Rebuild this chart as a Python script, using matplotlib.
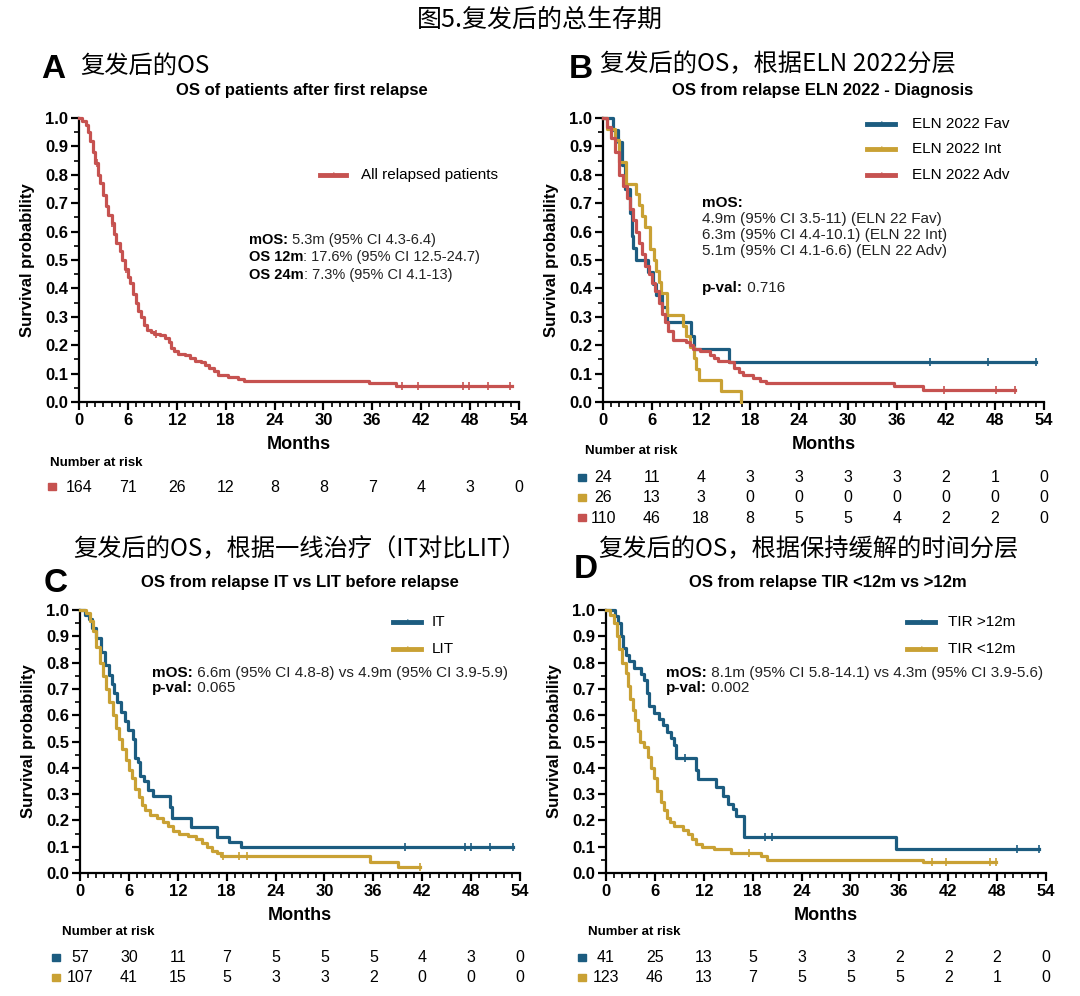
import numpy as np
import matplotlib
matplotlib.use('Agg')
import matplotlib.pyplot as plt
from matplotlib import font_manager
from matplotlib.ticker import MultipleLocator
from matplotlib.transforms import blended_transform_factory

plt.rcParams['font.family'] = ['Liberation Sans', 'DejaVu Sans']
_names = {f.name for f in font_manager.fontManager.ttflist}
NARROW = 'Liberation Sans Narrow' if 'Liberation Sans Narrow' in _names else 'Liberation Sans'
CJK = ['Noto Sans CJK SC', 'DejaVu Sans']

RED = '#C65250'
BLUE = '#1C5C80'
GOLD = '#C9A134'

risk_times = [0, 6, 12, 18, 24, 30, 36, 42, 48, 54]

# ---- panel A: all relapsed patients
a_t = [0, 0.4, 0.8, 1.1, 1.4, 1.7, 2.0, 2.3, 2.6, 3.0, 3.3, 3.6, 4.0, 4.3, 4.6, 5.0, 5.3, 5.6,
       6.0, 6.3, 6.6, 7.0, 7.3, 7.6, 8.0, 8.4, 8.8, 9.2, 10.0, 10.6, 11.0, 11.3, 11.7, 12.2,
       13.0, 13.6, 14.2, 15.0, 15.5, 16.0, 16.6, 17.1, 18.3, 19.5, 20.3, 35.6, 38.9]
a_s = [1.0, 0.99, 0.975, 0.95, 0.92, 0.88, 0.84, 0.80, 0.77, 0.73, 0.69, 0.66, 0.63, 0.59, 0.56,
       0.53, 0.50, 0.47, 0.44, 0.42, 0.38, 0.35, 0.32, 0.30, 0.27, 0.255, 0.245, 0.24, 0.235,
       0.225, 0.21, 0.19, 0.18, 0.17, 0.165, 0.155, 0.145, 0.14, 0.13, 0.12, 0.11, 0.095, 0.088,
       0.08, 0.073, 0.067, 0.055]
a_end = 53.2
a_cens = [2.2, 4.0, 5.8, 9.5, 39.7, 41.6, 47.1, 47.9, 50.2, 52.9]
a_risk = [164, 71, 26, 12, 8, 8, 7, 4, 3, 0]

# ---- panel B: ELN 2022
fav_t = [0, 1.2, 1.8, 2.3, 2.7, 3.3, 3.5, 3.7, 4.1, 5.5, 6.1, 6.5, 7.2, 7.8, 10.8, 11.2, 15.4]
fav_s = [1, .958, .917, .833, .75, .667, .583, .542, .5, .458, .417, .375, .333, .281, .234, .188, .141]
fav_end = 53.0
fav_cens = [40.0, 47.2, 53.0]
fav_risk = [24, 11, 4, 3, 3, 3, 3, 2, 1, 0]

int_t = [0, 0.5, 1.5, 2.0, 2.8, 4.0, 4.4, 4.8, 5.2, 5.8, 6.2, 6.5, 6.8, 7.1, 7.8, 9.8, 10.2,
         10.7, 11.1, 11.4, 11.8, 14.4, 16.9]
int_s = [1, .962, .923, .846, .769, .731, .692, .654, .615, .538, .5, .462, .423, .385, .308,
         .269, .231, .192, .154, .115, .077, .038, 0]
int_end = 16.9
int_cens = []
int_risk = [26, 13, 3, 0, 0, 0, 0, 0, 0, 0]

adv_t = [0, 0.5, 1.0, 1.5, 1.9, 2.4, 2.9, 3.3, 3.7, 4.0, 4.4, 4.8, 5.2, 5.6, 6.0, 6.4, 6.8, 7.2,
         7.6, 8.0, 8.6, 10.2, 10.6, 11.0, 11.9, 13.1, 13.6, 14.1, 15.4, 16.0, 16.6, 17.2, 18.4,
         19.2, 19.9, 35.6, 39.2]
adv_s = [1, .97, .93, .88, .80, .76, .72, .68, .64, .60, .56, .52, .48, .45, .42, .39, .35, .31,
         .28, .25, .22, .21, .20, .185, .18, .165, .155, .145, .14, .12, .105, .095, .085, .075,
         .068, .055, .043]
adv_end = 50.5
adv_cens = [41.7, 48.1, 50.5]
adv_risk = [110, 46, 18, 8, 5, 5, 4, 2, 2, 0]

# ---- panel C: IT vs LIT
it_t = [0, 0.6, 1.1, 1.5, 2.0, 2.6, 3.1, 3.5, 3.9, 4.2, 4.6, 5.0, 5.5, 5.9, 6.5, 6.8, 7.1, 7.4,
        7.8, 8.4, 9.0, 11.1, 11.3, 13.6, 16.8, 18.3, 19.8]
it_s = [1, .982, .965, .93, .895, .842, .789, .754, .719, .684, .649, .614, .579, .544, .509,
        .439, .421, .368, .351, .316, .293, .251, .209, .176, .138, .117, .098]
it_end = 53.2
it_cens = [39.9, 47.2, 48.0, 50.3, 53.1]
it_risk = [57, 30, 11, 7, 5, 5, 5, 4, 3, 0]

lit_t = [0, 0.7, 1.2, 1.6, 2.0, 2.4, 2.8, 3.2, 3.6, 4.0, 4.4, 4.8, 5.2, 5.6, 6.0, 6.4, 6.8, 7.2,
         7.6, 8.0, 8.6, 9.4, 10.2, 10.8, 11.4, 12.2, 13.2, 14.2, 15.0, 15.6, 16.2, 16.8, 17.3,
         35.6, 39.0]
lit_s = [1, .99, .96, .92, .86, .80, .75, .70, .65, .60, .55, .51, .47, .43, .39, .36, .32, .29,
         .26, .24, .22, .21, .195, .18, .16, .15, .14, .13, .115, .10, .085, .075, .065, .042, .021]
lit_end = 41.7
lit_cens = [17.6, 19.5, 20.5, 41.7]
lit_risk = [107, 41, 15, 5, 3, 3, 2, 0, 0, 0]

# ---- panel D: time in remission
gt_t = [0, 1.05, 1.5, 1.8, 2.1, 2.5, 2.8, 3.4, 4.3, 4.7, 5.0, 5.3, 5.9, 6.5, 7.0, 7.5, 8.0, 8.3,
        8.6, 11.0, 11.3, 13.5, 14.3, 15.0, 15.6, 16.0, 16.9, 35.6]
gt_s = [1, .976, .951, .902, .854, .829, .805, .780, .756, .732, .683, .634, .610, .585, .561,
        .537, .512, .488, .439, .39, .358, .326, .293, .261, .245, .218, .138, .092]
gt_end = 53.2
gt_cens = [9.7, 19.5, 20.4, 50.4, 53.2]
gt_risk = [41, 25, 13, 5, 3, 3, 2, 2, 2, 0]

lt_t = [0, 0.5, 1.0, 1.3, 1.6, 2.0, 2.4, 2.7, 3.0, 3.3, 3.6, 3.9, 4.2, 4.7, 5.1, 5.5, 5.9, 6.3,
        6.7, 7.1, 7.5, 7.9, 8.4, 9.4, 10.1, 10.6, 11.1, 11.8, 13.3, 15.3, 19.0, 19.8, 38.9]
lt_s = [1, .98, .95, .90, .85, .80, .76, .71, .66, .62, .58, .54, .50, .48, .44, .40, .36, .31,
        .27, .24, .21, .195, .18, .165, .15, .13, .11, .10, .09, .075, .065, .05, .043]
lt_end = 47.9
lt_cens = [17.5, 40.0, 41.7, 47.1, 47.9]
lt_risk = [123, 46, 13, 7, 5, 5, 5, 2, 1, 0]

W, H = 1080, 996
fig = plt.figure(figsize=(W / 100, H / 100), dpi=100)


def fx(x):
    return x / W


def fy(y):
    return 1 - y / H


def make_ax(l, t, r, b):
    ax = fig.add_axes([fx(l), fy(b), (r - l) / W, (b - t) / H])
    ax.set_xlim(0, 54)
    ax.set_ylim(0, 1)
    ax.set_xticks(risk_times)
    ax.xaxis.set_minor_locator(MultipleLocator(1))
    ax.set_yticks(np.round(np.arange(0, 1.01, 0.1), 1))
    ax.set_yticklabels([f'{v:.1f}' for v in np.arange(0, 1.01, 0.1)])
    ax.yaxis.set_minor_locator(MultipleLocator(0.05))
    for sp in ['top', 'right']:
        ax.spines[sp].set_visible(False)
    for sp in ['left', 'bottom']:
        ax.spines[sp].set_linewidth(1.6)
    ax.tick_params(which='major', length=6, width=1.6, pad=2)
    ax.tick_params(which='minor', length=3.5, width=1.2)
    for lab in ax.get_xticklabels() + ax.get_yticklabels():
        lab.set_fontfamily(NARROW)
        lab.set_fontweight('bold')
        lab.set_fontsize(12)
    ax.set_ylabel('Survival probability', fontweight='bold', fontsize=12, labelpad=7)
    ax.set_xlabel('Months', fontweight='bold', fontsize=13, family=NARROW, labelpad=6)
    return ax


def km(ax, t, s, end, cens, color):
    tt = np.append(t, end)
    ss = np.append(s, s[-1])
    ax.step(tt, ss, where='post', color=color, lw=2.3, clip_on=False, zorder=3)
    if len(cens):
        idx = np.searchsorted(tt, cens, side='right') - 1
        ax.plot(cens, ss[idx], ls='none', marker='|', ms=6, mew=1.2, color=color,
                clip_on=False, zorder=3)


def legend(x1, x2, xt, ys, labels, colors):
    for y, lab, c in zip(ys, labels, colors):
        fig.add_artist(plt.Line2D([fx(x1), fx(x2)], [fy(y), fy(y)], transform=fig.transFigure,
                                  color=c, lw=3.5))
        fig.text(fx((x1 + x2) / 2), fy(y), '+', color=c, ha='center', va='center', fontsize=7)
        fig.text(fx(xt), fy(y), lab, ha='left', va='center', fontsize=11)


def mixed(ax, x, y, bold, rest, size=10.5):
    t1 = fig.text(fx(x), fy(y), bold, ha='left', va='center', fontsize=size, fontweight='bold')
    ax.annotate(rest, xy=(1, 0), xycoords=t1, ha='left', va='bottom', fontsize=size,
                color='#222222', annotation_clip=False)


def risk_table(ax, head_xy, sq_x, rows, data, colors):
    fig.text(fx(head_xy[0]), fy(head_xy[1]), 'Number at risk', ha='left', va='center',
             fontsize=9.5, fontweight='bold', family=NARROW)
    tr = blended_transform_factory(ax.transData, fig.transFigure)
    for y, vals, c in zip(rows, data, colors):
        fig.add_artist(plt.Rectangle((fx(sq_x - 4), fy(y + 3.5)), 8 / W, 7 / H,
                                     transform=fig.transFigure, color=c))
        for t, v in zip(risk_times, vals):
            ax.text(t, fy(y), str(v), transform=tr, ha='center', va='center', fontsize=11.5,
                    family=NARROW, clip_on=False)


def heading(lx, ly, letter, cx, cy, cn, sx, sy, sub):
    fig.text(fx(lx), fy(ly), letter, ha='left', va='center', fontsize=24, fontweight='bold')
    fig.text(fx(cx), fy(cy), cn, ha='left', va='center', fontsize=17.5, family=CJK)
    fig.text(fx(sx), fy(sy), sub, ha='center', va='center', fontsize=12, fontweight='bold')


fig.text(0.5, fy(20), '图5.复发后的总生存期', ha='center', va='center', fontsize=18, family=CJK)

# ---- A
heading(41, 70, 'A', 80, 66, '复发后的OS', 302, 90, 'OS of patients after first relapse')
axA = make_ax(79, 118, 519, 402)
km(axA, a_t, a_s, a_end, a_cens, RED)
legend(320, 346, 361, [175], ['All relapsed patients'], [RED])
mixed(axA, 249, 240, 'mOS:', ' 5.3m (95% CI 4.3-6.4)')
mixed(axA, 249, 257, 'OS 12m', ': 17.6% (95% CI 12.5-24.7)')
mixed(axA, 249, 275, 'OS 24m', ': 7.3% (95% CI 4.1-13)')
risk_table(axA, (50, 463), 52, [487], [a_risk], [RED])

# ---- B
heading(569, 70, 'B', 600, 64, '复发后的OS，根据ELN 2022分层', 823, 90,
        'OS from relapse ELN 2022 - Diagnosis')
axB = make_ax(603, 118, 1044, 402)
km(axB, fav_t, fav_s, fav_end, fav_cens, BLUE)
km(axB, int_t, int_s, int_end, int_cens, GOLD)
km(axB, adv_t, adv_s, adv_end, adv_cens, RED)
legend(867, 895, 912, [124, 149, 175], ['ELN 2022 Fav', 'ELN 2022 Int', 'ELN 2022 Adv'],
       [BLUE, GOLD, RED])
fig.text(fx(702), fy(203), 'mOS:', ha='left', va='center', fontsize=11, fontweight='bold')
for y, line in zip([219, 235, 251], ['4.9m (95% CI 3.5-11) (ELN 22 Fav)',
                                     '6.3m (95% CI 4.4-10.1) (ELN 22 Int)',
                                     '5.1m (95% CI 4.1-6.6) (ELN 22 Adv)']):
    fig.text(fx(702), fy(y), line, ha='left', va='center', fontsize=11, color='#222222')
mixed(axB, 702, 288, 'p-val:', ' 0.716', size=11)
risk_table(axB, (585, 451), 582, [477, 497, 518], [fav_risk, int_risk, adv_risk],
           [BLUE, GOLD, RED])

# ---- C
heading(44, 583, 'C', 73, 549, '复发后的OS，根据一线治疗（IT对比LIT）', 300, 582,
        'OS from relapse IT vs LIT before relapse')
axC = make_ax(80, 610, 520, 873)
km(axC, it_t, it_s, it_end, it_cens, BLUE)
km(axC, lit_t, lit_s, lit_end, lit_cens, GOLD)
legend(393, 421, 432, [622, 649], ['IT', 'LIT'], [BLUE, GOLD])
mixed(axC, 152, 673, 'mOS:', ' 6.6m (95% CI 4.8-8) vs 4.9m (95% CI 3.9-5.9)', size=11)
mixed(axC, 152, 688, 'p-val:', ' 0.065', size=11)
risk_table(axC, (62, 932), 56, [957, 977], [it_risk, lit_risk], [BLUE, GOLD])

# ---- D
heading(574, 570, 'D', 598, 549, '复发后的OS，根据保持缓解的时间分层', 828, 582,
        'OS from relapse TIR <12m vs >12m')
axD = make_ax(606, 610, 1046, 873)
km(axD, gt_t, gt_s, gt_end, gt_cens, BLUE)
km(axD, lt_t, lt_s, lt_end, lt_cens, GOLD)
legend(907, 935, 948, [622, 649], ['TIR >12m', 'TIR <12m'], [BLUE, GOLD])
mixed(axD, 666, 673, 'mOS:', ' 8.1m (95% CI 5.8-14.1) vs 4.3m (95% CI 3.9-5.6)', size=11)
mixed(axD, 666, 688, 'p-val:', ' 0.002', size=11)
risk_table(axD, (588, 932), 582, [957, 977], [gt_risk, lt_risk], [BLUE, GOLD])

fig.savefig('out.png', dpi=100)
